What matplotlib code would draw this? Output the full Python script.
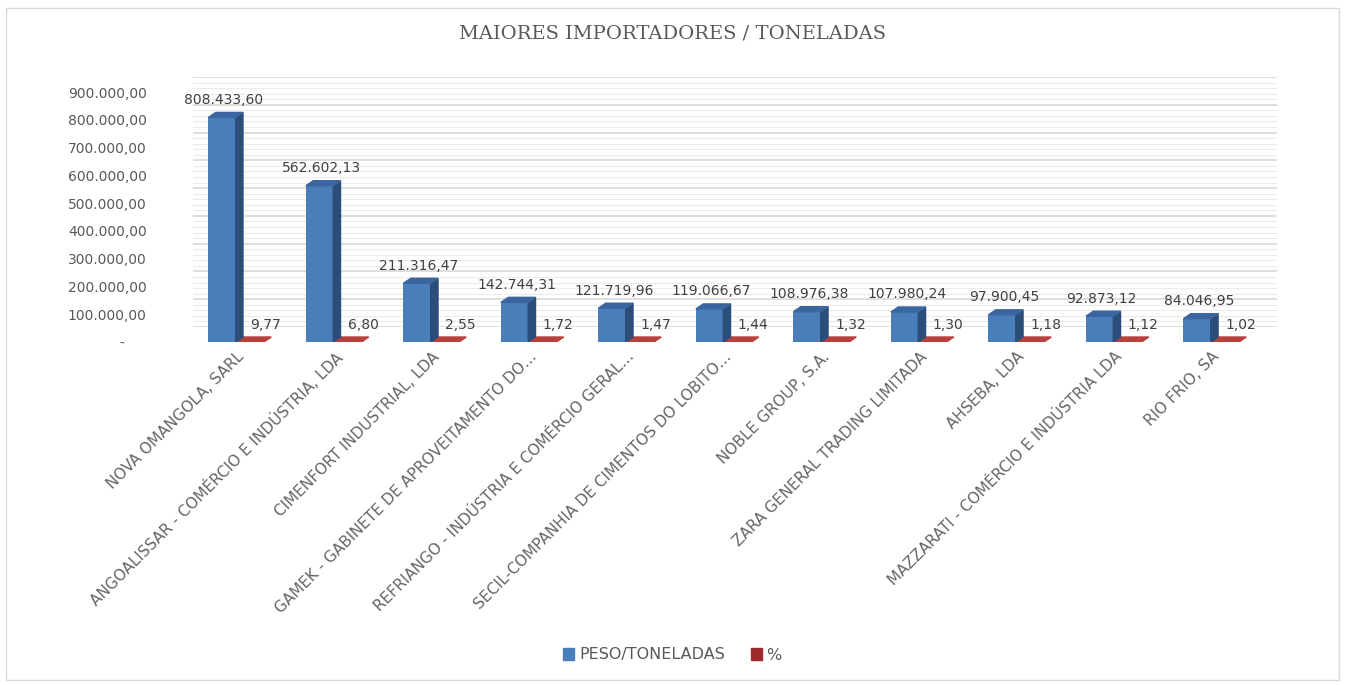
import numpy as np
import matplotlib as mpl
mpl.use('Agg')
import matplotlib.pyplot as plt
from matplotlib.patches import Polygon, Patch, Rectangle

# data
empresas = ["NOVA OMANGOLA, SARL",
            "ANGOALISSAR - COMÉRCIO E INDÚSTRIA, LDA",
            "CIMENFORT INDUSTRIAL, LDA",
            "GAMEK - GABINETE DE APROVEITAMENTO DO…",
            "REFRIANGO - INDÚSTRIA E COMÉRCIO GERAL…",
            "SECIL-COMPANHIA DE CIMENTOS DO LOBITO…",
            "NOBLE GROUP, S.A.",
            "ZARA GENERAL TRADING LIMITADA",
            "AHSEBA, LDA",
            "MAZZARATI - COMÉRCIO E INDÚSTRIA LDA",
            "RIO FRIO, SA"]
peso = [808433.60, 562602.13, 211316.47, 142744.31, 121719.96, 119066.67,
        108976.38, 107980.24, 97900.45, 92873.12, 84046.95]
pct = [9.77, 6.80, 2.55, 1.72, 1.47, 1.44, 1.32, 1.30, 1.18, 1.12, 1.02]
yticks = [0, 100000, 200000, 300000, 400000, 500000, 600000, 700000, 800000, 900000]

plt.rcParams['font.family'] = ['DejaVu Sans']

W, H = 1345, 685
fig = plt.figure(figsize=(W / 100, H / 100), dpi=100)
fig.patch.set_facecolor('white')

def pt(v):
    s = "{:,.2f}".format(v)
    return s.replace(',', '#').replace('.', ',').replace('#', '.')

def frac(x0, y0, x1, y1):
    # pixel box (top-left origin) -> figure fraction
    return [x0 / W, 1 - y1 / H, (x1 - x0) / W, (y1 - y0) / H]

# back wall (gridlines), shifted for the 3d look
axb = fig.add_axes(frac(193, 77, 1277, 327))
axb.set_ylim(0, 900000)
axb.set_xlim(0, 1)
axb.set_yticks(yticks)
axb.set_yticks(np.arange(0, 900001, 20000), minor=True)
axb.grid(True, which='major', axis='y', color='#d4d4d4', lw=1.1)
axb.grid(True, which='minor', axis='y', color='#ebebeb', lw=0.8)
axb.tick_params(left=False, labelleft=False, bottom=False, labelbottom=False, which='both')
for s in axb.spines.values():
    s.set_visible(False)
axb.set_facecolor('none')

# front plane
ax = fig.add_axes(frac(180, 92, 1280, 342))
ax.set_facecolor('none')
ax.set_ylim(0, 900000)
ax.set_xlim(-0.551, 10.73)
for s in ax.spines.values():
    s.set_visible(False)

x = np.arange(len(empresas))
w = 0.28
dx, dy = 0.075, 18000

blue, blue_side, blue_top = '#4a7ebb', '#2b4d7a', '#3a659e'
red, red_side, red_top = '#9e2a2b', '#6e1b1b', '#b8403d'

# % series (flat slabs)
ax.bar(x + 0.17, pct, w, color=red, zorder=2)
for xi, v in zip(x, pct):
    l, r = xi + 0.03, xi + 0.03 + w
    ax.add_patch(Polygon([(l, v), (r, v), (r + dx, v + dy), (l + dx, v + dy)],
                         closed=True, color=red_top, zorder=2))
    ax.annotate(pt(v), (xi + 0.17, 0), xytext=(0, 12), textcoords='offset points',
                ha='left', va='center', fontsize=10, color='#404040')

# peso series
ax.bar(x - 0.12, peso, w, color=blue, zorder=3)
for xi, v in zip(x, peso):
    l, r = xi - 0.26, xi - 0.26 + w
    ax.add_patch(Polygon([(r, 0), (r + dx, dy), (r + dx, v + dy), (r, v)],
                         closed=True, color=blue_side, zorder=3))
    ax.add_patch(Polygon([(l, v), (r, v), (r + dx, v + dy), (l + dx, v + dy)],
                         closed=True, color=blue_top, zorder=3))
    ax.annotate(pt(v), (xi - 0.10, v + dy), xytext=(0, 4), textcoords='offset points',
                ha='center', va='bottom', fontsize=10, color='#404040')

ax.set_yticks(yticks)
ax.set_yticklabels(['-     '] + [pt(v) for v in yticks[1:]], fontsize=10, color='#595959')
ax.tick_params(axis='y', length=0, pad=24)
ax.set_xticks(x + 0.03)
ax.set_xticklabels(empresas, rotation=45, ha='right', rotation_mode='anchor',
                   fontsize=11, color='#666666')
ax.tick_params(axis='x', length=0, pad=5)

fig.text(0.5, 1 - 33 / H, 'MAIORES IMPORTADORES / TONELADAS', ha='center', va='center',
         fontsize=14, color='#595959', family='DejaVu Serif')

handles = [Patch(color=blue, label='PESO/TONELADAS'), Patch(color=red, label='%')]
fig.legend(handles=handles, loc='center', bbox_to_anchor=(0.5, 1 - 655 / H), ncol=2,
           frameon=False, fontsize=11.5, handlelength=0.7, handleheight=0.7,
           handletextpad=0.3, columnspacing=1.6, labelcolor='#595959')

fig.add_artist(Rectangle((6 / W, 5 / H), 1 - 12 / W, 1 - 13 / H, transform=fig.transFigure,
                         fill=False, edgecolor='#d9d9d9', lw=1))

fig.savefig('out.png', dpi=100)
